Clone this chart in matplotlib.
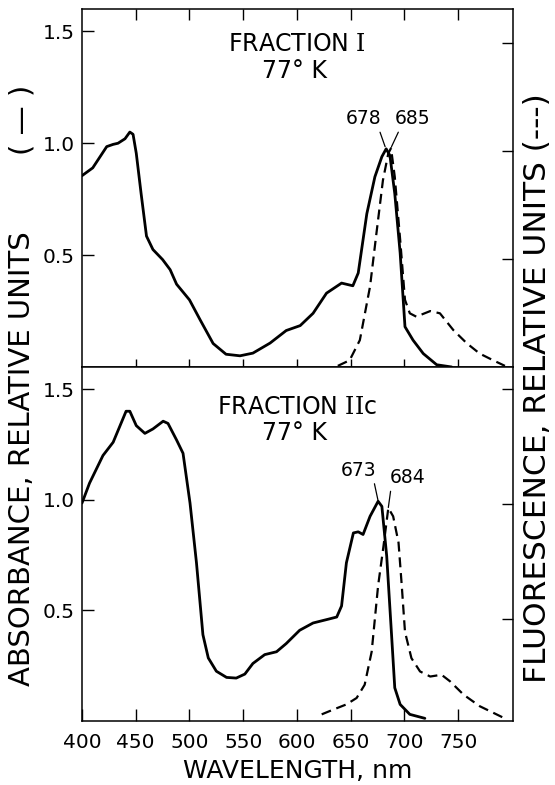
import matplotlib
matplotlib.use("Agg")
import matplotlib.pyplot as plt

# ---------------- data ----------------
# Fraction I, 77 K
top_abs_nm = [400, 410, 423, 429, 433.5, 440, 444.5, 447.5, 450.5, 455, 460, 466, 475, 482, 488,
              500, 510, 522, 534, 547, 559, 575, 590, 603, 615, 627.5, 641.5, 652, 657, 665,
              672.5, 679, 683, 686.5, 691, 696, 700.5, 708, 717.5, 730, 744]
top_abs_val = [0.855, 0.89, 0.985, 0.995, 1.0, 1.02, 1.05, 1.04, 0.955, 0.775, 0.585, 0.525, 0.48,
               0.435, 0.37, 0.30, 0.21, 0.105, 0.057, 0.05, 0.062, 0.107, 0.163, 0.185, 0.24, 0.33,
               0.375, 0.363, 0.42, 0.685, 0.85, 0.94, 0.975, 0.945, 0.775, 0.51, 0.18, 0.12, 0.06,
               0.01, 0.0]
top_fl_nm = [638, 649, 658.5, 668, 674, 680, 685, 687.5, 691, 696, 700.5, 705, 711, 724, 733,
             745.5, 758, 770, 782.5, 793.5]
top_fl_val = [0.005, 0.03, 0.12, 0.36, 0.6, 0.835, 0.955, 0.978, 0.85, 0.57, 0.3, 0.24, 0.225,
              0.25, 0.24, 0.165, 0.106, 0.06, 0.03, 0.005]

# Fraction IIc, 77 K
bot_abs_nm = [400, 407, 419.5, 429, 435, 441, 444.5, 450.5, 458.5, 466, 475.5, 480, 488, 494,
              500.5, 506.5, 512.5, 517.5, 525, 534.5, 543.5, 551.5, 559, 570, 581, 590, 602.5,
              615, 629, 637, 641.5, 646, 652.5, 657, 661.5, 668, 675.5, 679, 683.5, 688, 691,
              696, 705, 719]
bot_abs_val = [0.985, 1.075, 1.2, 1.26, 1.33, 1.40, 1.40, 1.335, 1.30, 1.32, 1.355, 1.345, 1.27,
               1.21, 0.985, 0.715, 0.39, 0.285, 0.225, 0.197, 0.194, 0.212, 0.26, 0.30, 0.313,
               0.35, 0.41, 0.443, 0.46, 0.47, 0.52, 0.715, 0.85, 0.855, 0.843, 0.925, 0.993,
               0.97, 0.745, 0.39, 0.15, 0.075, 0.03, 0.012]
bot_fl_nm = [623, 634, 646, 655.5, 663, 669.5, 675.5, 680.5, 685, 689.5, 694.5, 697.5, 700.5,
             706.5, 714.5, 724, 734.5, 742.5, 755, 770, 792]
bot_fl_val = [0.03, 0.052, 0.075, 0.104, 0.164, 0.313, 0.612, 0.79, 0.963, 0.925, 0.806, 0.612,
              0.403, 0.284, 0.224, 0.201, 0.209, 0.179, 0.119, 0.067, 0.015]

x_ticks = [400, 450, 500, 550, 600, 650, 700, 750]
x_minor = [450, 500, 550, 600, 650, 700, 750]
y_ticks = [0.5, 1.0, 1.5]
y_tick_labels = ["0.5", "1.0", "1.5"]
top_right_ticks = [0.482, 0.964, 1.446]
bot_right_ticks = [0.46, 0.98, 1.5]

top_title = [r"FRACTION $\mathrm{I}$", "77\u00b0 K"]
bot_title = [r"FRACTION $\mathrm{II}$c", "77\u00b0 K"]
top_peaks = [("678", (682, 0.985), (661.7, 1.11), (0.93, 0.0)),
             ("685", (688, 0.985), (708.0, 1.11), (0.14, 0.0))]
bot_peaks = [("673", (675.5, 0.995), (657.0, 1.134), (0.93, 0.0)),
             ("684", (685, 0.965), (702.6, 1.10), (0.05, 0.0))]

# ---------------- figure ----------------
plt.rcParams['font.family'] = ['DejaVu Sans']
plt.rcParams['mathtext.fontset'] = 'dejavuserif'
W, H = 555, 785
fig = plt.figure(figsize=(W / 100, H / 100), dpi=100)
L, R = 82, 513
T0, MID, B0 = 9, 367, 721
ax_top = fig.add_axes([L / W, 1 - MID / H, (R - L) / W, (MID - T0) / H])
ax_bot = fig.add_axes([L / W, 1 - B0 / H, (R - L) / W, (B0 - MID) / H])

solid_kw = dict(color='black', lw=2.0, solid_joinstyle='round', solid_capstyle='round')
dash_kw = dict(color='black', lw=1.6, linestyle=(0, (4.5, 2.6)))

for ax, abs_nm, abs_val, fl_nm, fl_val, title, peaks, rt in [
        (ax_top, top_abs_nm, top_abs_val, top_fl_nm, top_fl_val, top_title, top_peaks, top_right_ticks),
        (ax_bot, bot_abs_nm, bot_abs_val, bot_fl_nm, bot_fl_val, bot_title, bot_peaks, bot_right_ticks)]:
    ax.plot(abs_nm, abs_val, **solid_kw)
    ax.plot(fl_nm, fl_val, **dash_kw)
    ax.set_xlim(400, 801)
    ax.set_ylim(0, 1.6)
    for s in ax.spines.values():
        s.set_linewidth(1.1)
    ax.set_yticks(y_ticks)
    ax.set_yticklabels(y_tick_labels)
    ax.tick_params(axis='y', direction='in', length=8.5, width=1.0, labelsize=14.5, pad=5)
    ax.text(600, 1.445 if ax is ax_top else 1.42, title[0], ha='center', va='center', fontsize=17)
    ax.text(598, 1.325 if ax is ax_top else 1.30, title[1], ha='center', va='center', fontsize=17)
    for lab, xy, xyt, rel in peaks:
        ax.annotate(lab, xy=xy, xytext=xyt, ha='center', va='center', fontsize=13.5,
                    arrowprops=dict(arrowstyle='-', lw=0.9, color='black', relpos=rel,
                                    shrinkA=1, shrinkB=0))
    axr = ax.twinx()
    axr.set_ylim(ax.get_ylim())
    axr.set_yticks(rt)
    axr.set_yticklabels([])
    axr.tick_params(axis='y', direction='in', length=8, width=1.0)
    for s in axr.spines.values():
        s.set_visible(False)

# top panel: cross ticks on the shared boundary, inward ticks on top spine
ax_top.set_xticks(x_minor)
ax_top.tick_params(axis='x', which='major', direction='inout', length=12, width=1.0,
                   top=False, labelbottom=False)
axt = ax_top.twiny()
axt.set_xlim(ax_top.get_xlim())
axt.set_xticks(x_minor)
axt.set_xticklabels([])
axt.tick_params(axis='x', direction='in', length=8, width=1.0)
for s in axt.spines.values():
    s.set_visible(False)

ax_bot.set_xticks(x_ticks)
ax_bot.set_xticklabels([str(v) for v in x_ticks])
ax_bot.tick_params(axis='x', direction='in', length=9, width=1.0, labelsize=14.5, pad=9)
ax_bot.set_xlabel("WAVELENGTH, nm", fontsize=18, labelpad=5)

fig.text(22 / W, 1 - 459 / H, "ABSORBANCE, RELATIVE UNITS", rotation=90,
         ha='center', va='center', fontsize=21)
fig.text(22 / W, 1 - 120 / H, "( \u2014 )", rotation=90, ha='center', va='center', fontsize=21)
fig.text(537 / W, 1 - 388 / H, "FLUORESCENCE, RELATIVE UNITS (---)", rotation=90,
         ha='center', va='center', fontsize=22.5)

fig.savefig("out.png", dpi=100)
